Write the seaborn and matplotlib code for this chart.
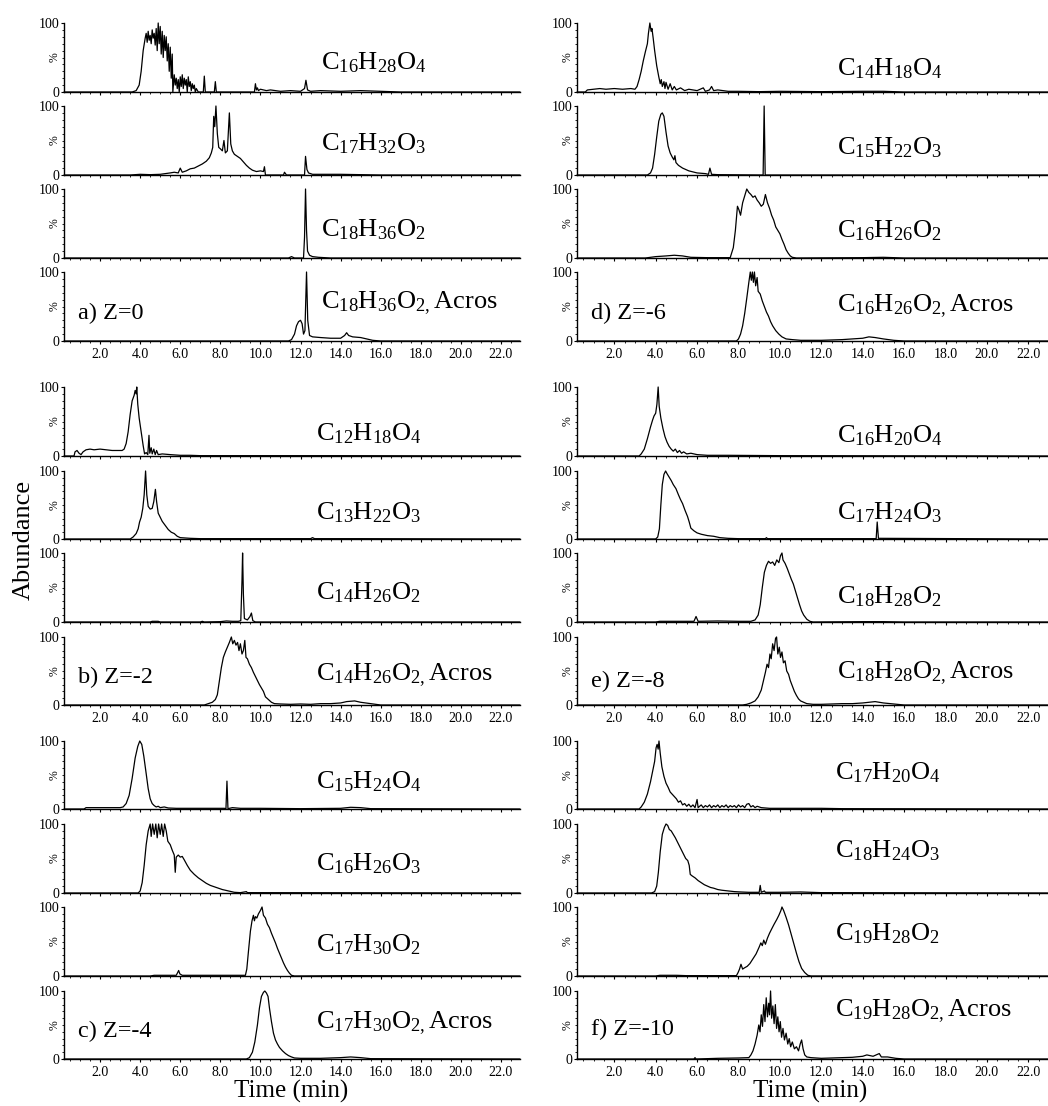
import matplotlib
matplotlib.use('Agg')
import pandas as pd
import matplotlib.pyplot as plt
import seaborn as sns
from matplotlib.ticker import MultipleLocator, FixedLocator, FormatStrFormatter

# ---------------- data: (time in min, abundance in %) ----------------
# panel a) Z=0
a1 = [(0.2, 0), (3.6, 0), (3.8, 2), (3.95, 10), (4.05, 30), (4.15, 60), (4.25, 78), (4.3, 85), (4.35, 72),
      (4.4, 88), (4.45, 75), (4.5, 82), (4.55, 70), (4.6, 90), (4.65, 78), (4.7, 85), (4.75, 68), (4.8, 92),
      (4.85, 60), (4.9, 100), (4.95, 70), (5.0, 95), (5.05, 55), (5.1, 88), (5.15, 50), (5.2, 82), (5.25, 60),
      (5.3, 80), (5.35, 45), (5.4, 70), (5.45, 30), (5.5, 65), (5.55, 20), (5.6, 55), (5.63, 0), (5.7, 25),
      (5.75, 10), (5.8, 20), (5.85, 5), (5.9, 18), (5.95, 0), (6.0, 22), (6.05, 8), (6.1, 25), (6.15, 5),
      (6.2, 20), (6.25, 10), (6.3, 18), (6.35, 0), (6.4, 22), (6.45, 8), (6.5, 15), (6.55, 2), (6.6, 12),
      (6.65, 5), (6.7, 10), (6.75, 0), (6.8, 5), (6.9, 0), (7.15, 0), (7.2, 23), (7.25, 0), (7.7, 0),
      (7.75, 15), (7.8, 0), (9.7, 0), (9.75, 12), (9.8, 3), (9.85, 6), (9.9, 2), (10.0, 4), (10.3, 2),
      (10.5, 3), (11.0, 1), (11.5, 2), (12.0, 1), (12.2, 5), (12.27, 17), (12.35, 3), (12.5, 1), (13.0, 2),
      (14.0, 1), (15.0, 2), (16.0, 1), (17.0, 0), (22.95, 0)]
a2 = [(0.2, 0), (3.5, 0), (4.0, 1), (4.5, 0.5), (5.0, 1), (5.5, 3), (5.7, 4), (5.9, 3), (6.0, 10), (6.1, 4),
      (6.3, 6), (6.5, 9), (6.7, 10), (6.9, 13), (7.1, 16), (7.3, 20), (7.45, 25), (7.55, 32), (7.62, 40),
      (7.67, 85), (7.72, 70), (7.78, 100), (7.85, 60), (7.92, 40), (8.0, 38), (8.1, 35), (8.18, 50),
      (8.25, 32), (8.35, 35), (8.45, 90), (8.52, 45), (8.6, 35), (8.7, 30), (8.85, 27), (9.0, 24),
      (9.15, 19), (9.3, 14), (9.45, 10), (9.6, 7), (9.8, 5), (10.0, 6), (10.15, 5), (10.2, 12), (10.25, 0),
      (11.15, 0), (11.2, 4), (11.3, 0), (12.2, 0), (12.25, 27), (12.32, 8), (12.4, 3), (12.6, 1), (14.0, 1),
      (15.0, 0.5), (16.0, 0), (22.95, 0)]
a3 = [(0.2, 0), (11.4, 0), (11.55, 2), (11.7, 0), (12.15, 0), (12.2, 30), (12.25, 100), (12.3, 40),
      (12.35, 10), (12.45, 4), (12.6, 2), (12.9, 1), (13.5, 0), (22.95, 0)]
a4 = [(0.2, 0), (11.4, 0), (11.55, 2), (11.7, 10), (11.8, 22), (11.9, 28), (12.0, 30), (12.08, 25),
      (12.15, 10), (12.22, 15), (12.3, 100), (12.36, 30), (12.45, 8), (12.6, 6), (13.0, 5), (13.5, 4),
      (14.0, 4), (14.2, 8), (14.3, 12), (14.4, 8), (14.6, 6), (15.0, 5), (15.3, 3), (15.6, 1), (16.0, 0),
      (22.95, 0)]

# panel b) Z=-2
b1 = [(0.2, 0), (0.7, 0), (0.75, 6), (0.85, 8), (0.95, 4), (1.05, 2), (1.15, 6), (1.3, 9), (1.5, 10),
      (1.7, 9), (2.0, 10), (2.3, 9), (2.6, 8), (2.9, 8), (3.1, 8), (3.2, 10), (3.3, 18), (3.4, 35), (3.5, 60),
      (3.6, 80), (3.7, 88), (3.75, 95), (3.8, 90), (3.83, 100), (3.88, 75), (3.95, 55), (4.05, 35),
      (4.15, 15), (4.22, 3), (4.3, 5), (4.38, 2), (4.44, 30), (4.48, 4), (4.55, 12), (4.6, 3), (4.68, 10),
      (4.75, 2), (4.82, 8), (4.9, 2), (5.1, 3), (5.5, 2), (6.0, 1), (6.5, 1), (7.0, 0.5), (10.0, 0.5),
      (14.0, 0.5), (22.95, 0)]
b2 = [(0.2, 0), (3.5, 0), (3.65, 3), (3.8, 8), (3.9, 15), (3.97, 25), (4.05, 32), (4.13, 45), (4.2, 65),
      (4.27, 100), (4.33, 65), (4.4, 48), (4.5, 44), (4.6, 45), (4.68, 55), (4.76, 73), (4.82, 55),
      (4.9, 38), (5.0, 32), (5.1, 26), (5.25, 20), (5.4, 14), (5.55, 10), (5.7, 8), (5.85, 4), (6.0, 2),
      (6.5, 1), (7.0, 0.5), (12.5, 0.5), (12.6, 2), (12.7, 0.5), (15.0, 0.5), (22.95, 0)]
b3 = [(0.2, 0), (4.5, 0), (4.6, 1), (4.9, 1), (5.0, 0), (7.0, 0), (7.1, 1), (7.2, 0), (8.0, 0.5),
      (8.3, 1.5), (8.6, 1), (8.9, 1), (9.02, 2), (9.08, 60), (9.11, 100), (9.15, 40), (9.2, 5), (9.35, 3),
      (9.48, 8), (9.55, 13), (9.62, 2), (9.75, 0), (22.95, 0)]
b4 = [(0.2, 0), (7.2, 0), (7.4, 2), (7.6, 4), (7.75, 8), (7.85, 15), (7.95, 35), (8.05, 55), (8.15, 70),
      (8.25, 78), (8.35, 85), (8.45, 92), (8.55, 100), (8.62, 90), (8.7, 95), (8.78, 88), (8.86, 92),
      (8.93, 80), (9.0, 90), (9.08, 75), (9.15, 80), (9.22, 95), (9.28, 70), (9.35, 68), (9.45, 60),
      (9.55, 55), (9.65, 48), (9.75, 42), (9.85, 36), (9.95, 30), (10.05, 25), (10.15, 20), (10.25, 12),
      (10.4, 8), (10.55, 4), (10.7, 2), (11.0, 1.5), (11.5, 1), (12.0, 1.5), (12.5, 1), (13.0, 2),
      (13.5, 2), (14.0, 3), (14.3, 5), (14.7, 6), (15.0, 4), (15.5, 2), (16.0, 0), (22.95, 0)]

# panel c) Z=-4
c1 = [(0.2, 0), (1.2, 0), (1.3, 2), (2.0, 2), (2.5, 2), (3.0, 2), (3.15, 3), (3.3, 8), (3.45, 20),
      (3.6, 45), (3.75, 75), (3.88, 92), (3.98, 100), (4.08, 95), (4.18, 78), (4.3, 52), (4.4, 30),
      (4.5, 15), (4.6, 8), (4.7, 5), (4.8, 3), (4.9, 4), (5.0, 2), (5.2, 3), (5.4, 1.5), (5.8, 1), (6.5, 1),
      (7.5, 1), (8.2, 1), (8.28, 0.5), (8.33, 41), (8.38, 0.5), (8.6, 2), (9.0, 1), (10.0, 1), (12.0, 0.5),
      (14.0, 1), (14.5, 2.5), (15.0, 2), (15.5, 0.5), (22.95, 0)]
c2 = [(0.2, 0), (3.9, 0), (4.0, 3), (4.1, 15), (4.2, 40), (4.3, 70), (4.4, 90), (4.5, 100), (4.55, 82),
      (4.62, 100), (4.7, 85), (4.78, 100), (4.85, 80), (4.92, 100), (5.0, 85), (5.07, 100), (5.15, 82),
      (5.22, 100), (5.3, 90), (5.38, 75), (5.5, 70), (5.6, 62), (5.7, 55), (5.75, 30), (5.8, 52),
      (5.9, 55), (6.0, 52), (6.1, 53), (6.2, 48), (6.35, 40), (6.5, 33), (6.7, 27), (6.9, 22), (7.1, 18),
      (7.3, 14), (7.5, 11), (7.8, 8), (8.1, 5), (8.4, 3), (8.7, 1), (9.0, 0.5), (9.3, 2), (9.35, 0.5),
      (22.95, 0)]
c3 = [(0.2, 0), (4.5, 0), (4.7, 1), (5.5, 1), (5.8, 1), (5.87, 5), (5.92, 8), (5.98, 3), (6.1, 1),
      (7.0, 1), (8.0, 1), (9.0, 1), (9.25, 1), (9.32, 10), (9.4, 35), (9.5, 65), (9.58, 80), (9.65, 88),
      (9.7, 80), (9.75, 86), (9.82, 84), (9.9, 90), (10.0, 95), (10.08, 100), (10.15, 88), (10.25, 84),
      (10.35, 75), (10.45, 70), (10.55, 62), (10.65, 55), (10.75, 48), (10.85, 40), (10.95, 33),
      (11.05, 26), (11.15, 19), (11.25, 13), (11.35, 8), (11.45, 4), (11.55, 1), (11.7, 0), (14.5, 0.5),
      (22.95, 0)]
c4 = [(0.2, 0), (9.3, 0), (9.45, 2), (9.6, 10), (9.72, 25), (9.85, 50), (9.95, 75), (10.05, 92),
      (10.15, 98), (10.22, 100), (10.3, 97), (10.38, 92), (10.45, 75), (10.55, 55), (10.65, 38),
      (10.75, 28), (10.85, 22), (10.95, 17), (11.1, 12), (11.25, 8), (11.4, 5), (11.55, 3), (11.7, 1.5),
      (12.0, 1), (13.0, 1), (14.0, 2), (14.5, 3), (15.0, 2), (15.5, 0.5), (22.95, 0)]

# panel d) Z=-6
d1 = [(0.2, 0), (0.6, 0), (0.7, 3), (1.0, 4), (1.3, 5), (1.6, 4), (2.0, 5), (2.4, 4), (2.8, 5), (3.0, 4),
      (3.1, 8), (3.2, 18), (3.3, 30), (3.4, 45), (3.5, 58), (3.6, 70), (3.65, 85), (3.72, 100), (3.78, 88),
      (3.82, 92), (3.88, 78), (3.95, 60), (4.05, 38), (4.15, 22), (4.22, 12), (4.27, 18), (4.32, 8),
      (4.4, 15), (4.45, 5), (4.5, 14), (4.6, 4), (4.7, 12), (4.8, 3), (4.9, 8), (5.0, 3), (5.2, 6), (5.4, 2),
      (5.6, 4), (6.0, 2), (6.3, 6), (6.4, 1), (6.6, 3), (6.7, 8), (6.8, 2), (7.0, 3), (7.5, 1), (8.0, 1),
      (9.0, 0.5), (10.0, 1), (12.0, 0.5), (14.0, 1), (15.0, 1), (16.0, 0), (22.95, 0)]
d2 = [(0.2, 0), (3.6, 0), (3.75, 3), (3.85, 10), (3.95, 30), (4.05, 55), (4.15, 78), (4.25, 88),
      (4.32, 90), (4.4, 85), (4.5, 62), (4.6, 42), (4.7, 32), (4.8, 26), (4.88, 22), (4.93, 28), (4.98, 18),
      (5.1, 14), (5.3, 10), (5.6, 6), (6.0, 3), (6.4, 2), (6.55, 1), (6.62, 10), (6.7, 1), (7.0, 0.5),
      (9.19, 0), (9.24, 100), (9.29, 0), (22.95, 0)]
d3 = [(0.2, 0), (3.5, 0), (4.0, 2), (4.5, 3), (4.9, 4), (5.3, 3), (5.7, 1), (6.5, 0.5), (7.6, 0.5),
      (7.75, 15), (7.85, 40), (7.95, 75), (8.02, 70), (8.1, 62), (8.2, 80), (8.3, 90), (8.4, 100),
      (8.5, 95), (8.6, 92), (8.7, 88), (8.8, 90), (8.9, 84), (9.0, 80), (9.1, 75), (9.2, 78), (9.3, 92),
      (9.4, 80), (9.5, 72), (9.6, 62), (9.7, 55), (9.8, 45), (9.9, 40), (10.0, 35), (10.1, 27), (10.2, 20),
      (10.3, 12), (10.4, 7), (10.5, 3), (10.6, 1), (10.8, 0), (14.0, 0.5), (15.0, 1), (16.0, 0), (22.95, 0)]
d4 = [(0.2, 0), (7.9, 0), (8.0, 3), (8.1, 10), (8.2, 22), (8.3, 40), (8.4, 62), (8.5, 85), (8.57, 100),
      (8.62, 88), (8.67, 100), (8.72, 85), (8.77, 100), (8.83, 80), (8.9, 92), (8.95, 72), (9.05, 68),
      (9.15, 58), (9.25, 50), (9.35, 42), (9.45, 36), (9.55, 28), (9.65, 22), (9.8, 15), (9.95, 10),
      (10.1, 6), (10.3, 3), (10.6, 2), (11.0, 1), (12.0, 1), (13.0, 2), (13.5, 3), (14.0, 4), (14.3, 6),
      (14.6, 5), (15.0, 3), (15.5, 1), (16.0, 0), (22.95, 0)]

# panel e) Z=-8
e1 = [(0.2, 0), (3.2, 0), (3.3, 3), (3.45, 10), (3.6, 25), (3.75, 42), (3.85, 52), (3.92, 58), (4.0, 62),
      (4.06, 75), (4.12, 100), (4.17, 72), (4.25, 55), (4.35, 40), (4.45, 28), (4.55, 20), (4.65, 14),
      (4.75, 10), (4.85, 7), (4.95, 10), (5.05, 5), (5.15, 8), (5.25, 4), (5.35, 6), (5.5, 3), (5.7, 4),
      (6.0, 2), (6.5, 1), (7.5, 1), (10.0, 0.5), (22.95, 0)]
e2 = [(0.2, 0), (4.0, 0), (4.1, 3), (4.18, 15), (4.25, 50), (4.32, 80), (4.4, 95), (4.48, 100), (4.55, 96),
      (4.65, 91), (4.75, 86), (4.85, 80), (4.98, 74), (5.1, 65), (5.2, 58), (5.3, 52), (5.42, 42),
      (5.54, 33), (5.62, 25), (5.7, 16), (5.85, 12), (6.0, 9), (6.2, 7), (6.5, 5), (6.8, 4), (7.1, 2),
      (7.5, 1), (8.0, 0.5), (9.3, 0.5), (9.35, 2), (9.4, 0.5), (14.65, 0.5), (14.7, 25), (14.76, 1),
      (22.95, 0)]
e3 = [(0.2, 0), (4.0, 0), (4.2, 1), (5.5, 1), (5.85, 1), (5.95, 8), (6.05, 1), (7.0, 1.5), (8.0, 1),
      (8.6, 1), (8.8, 3), (8.95, 10), (9.05, 25), (9.15, 50), (9.25, 72), (9.35, 82), (9.45, 88),
      (9.55, 85), (9.65, 87), (9.75, 82), (9.85, 90), (9.95, 86), (10.03, 96), (10.1, 100), (10.15, 90),
      (10.25, 85), (10.35, 78), (10.45, 70), (10.55, 62), (10.65, 55), (10.75, 45), (10.85, 35),
      (10.95, 25), (11.05, 16), (11.15, 10), (11.3, 4), (11.45, 1), (11.6, 0), (14.0, 0.5), (15.0, 0.5),
      (16.0, 0), (22.95, 0)]
e4 = [(0.2, 0), (8.2, 0), (8.4, 1), (8.6, 3), (8.8, 6), (8.95, 12), (9.1, 22), (9.2, 35), (9.3, 48),
      (9.38, 60), (9.45, 55), (9.52, 75), (9.58, 68), (9.65, 90), (9.72, 80), (9.79, 98), (9.84, 100),
      (9.9, 75), (9.97, 85), (10.03, 70), (10.1, 78), (10.17, 62), (10.25, 65), (10.33, 50), (10.42, 45),
      (10.5, 36), (10.6, 28), (10.7, 20), (10.8, 14), (10.9, 9), (11.0, 6), (11.15, 4), (11.3, 2),
      (11.6, 1), (12.0, 1), (12.5, 1.5), (13.0, 2), (13.5, 2), (14.0, 3), (14.3, 4), (14.6, 5), (15.0, 3),
      (15.5, 1.5), (16.0, 0), (22.95, 0)]

# panel f) Z=-10
f1 = [(0.2, 0), (3.2, 0), (3.3, 3), (3.45, 10), (3.6, 22), (3.75, 40), (3.85, 55), (3.95, 70), (4.02, 90),
      (4.07, 95), (4.12, 88), (4.16, 100), (4.22, 82), (4.3, 62), (4.4, 48), (4.5, 38), (4.6, 32),
      (4.7, 25), (4.85, 20), (5.0, 15), (5.1, 10), (5.2, 12), (5.3, 6), (5.4, 8), (5.5, 4), (5.6, 7),
      (5.7, 3), (5.8, 6), (5.9, 2), (6.0, 14), (6.05, 2), (6.2, 6), (6.3, 2), (6.4, 5), (6.5, 3), (6.6, 6),
      (6.7, 2), (6.8, 5), (6.9, 3), (7.0, 6), (7.1, 2), (7.2, 5), (7.3, 3), (7.4, 6), (7.5, 2), (7.6, 5),
      (7.7, 3), (7.8, 5), (7.9, 2), (8.0, 6), (8.1, 3), (8.2, 5), (8.3, 2), (8.4, 7), (8.5, 8), (8.6, 3),
      (8.7, 5), (8.8, 2), (8.9, 4), (9.1, 2), (9.5, 1), (10.0, 1), (12.0, 1), (13.0, 0.5), (22.95, 0)]
f2 = [(0.2, 0), (3.8, 0), (3.95, 2), (4.05, 10), (4.13, 30), (4.22, 60), (4.32, 85), (4.42, 95),
      (4.5, 100), (4.58, 98), (4.66, 92), (4.75, 90), (4.85, 85), (4.95, 80), (5.05, 74), (5.15, 68),
      (5.25, 62), (5.35, 56), (5.45, 50), (5.55, 47), (5.62, 40), (5.67, 27), (5.75, 25), (5.9, 22),
      (6.05, 18), (6.2, 15), (6.35, 12), (6.5, 10), (6.65, 8), (6.8, 7), (7.0, 5), (7.2, 4), (7.5, 3),
      (7.8, 2), (8.1, 1.5), (8.5, 1), (9.0, 1), (9.05, 11), (9.1, 1), (9.25, 3), (9.3, 1), (10.0, 1),
      (11.0, 1.5), (11.5, 1), (12.0, 0.5), (22.95, 0)]
f3 = [(0.2, 0), (4.0, 0), (4.2, 1), (5.0, 1), (5.5, 0.5), (7.9, 0.5), (7.98, 5), (8.05, 10), (8.12, 17),
      (8.2, 10), (8.3, 12), (8.42, 14), (8.55, 18), (8.7, 25), (8.85, 32), (9.0, 42), (9.08, 48),
      (9.15, 44), (9.22, 52), (9.3, 46), (9.4, 55), (9.5, 62), (9.6, 68), (9.72, 75), (9.85, 82),
      (9.95, 88), (10.05, 95), (10.1, 100), (10.18, 95), (10.3, 85), (10.42, 74), (10.55, 60), (10.68, 46),
      (10.8, 33), (10.92, 21), (11.05, 11), (11.2, 5), (11.35, 1), (11.5, 0), (22.95, 0)]
f4 = [(0.2, 0), (5.85, 0), (5.9, 2), (5.95, 0), (7.0, 1), (8.0, 1.5), (8.5, 2), (8.6, 6), (8.7, 12),
      (8.8, 22), (8.9, 35), (8.98, 50), (9.04, 40), (9.1, 65), (9.16, 48), (9.22, 80), (9.28, 55),
      (9.34, 90), (9.4, 62), (9.46, 82), (9.5, 65), (9.55, 100), (9.6, 60), (9.66, 78), (9.72, 52),
      (9.78, 80), (9.84, 45), (9.9, 62), (9.96, 40), (10.02, 55), (10.08, 32), (10.15, 45), (10.22, 28),
      (10.3, 38), (10.38, 22), (10.45, 30), (10.52, 18), (10.6, 25), (10.7, 15), (10.8, 18), (10.9, 12),
      (10.98, 22), (11.05, 28), (11.12, 15), (11.2, 6), (11.3, 3), (11.5, 2), (12.0, 1), (12.5, 1.5),
      (13.0, 2), (13.5, 2.5), (14.0, 4), (14.2, 6), (14.5, 4), (14.8, 8), (14.9, 3), (15.2, 3), (15.6, 1),
      (16.0, 0), (22.95, 0)]

formulas_a = [r'C$_{16}$H$_{28}$O$_{4}$', r'C$_{17}$H$_{32}$O$_{3}$', r'C$_{18}$H$_{36}$O$_{2}$', r'C$_{18}$H$_{36}$O$_{2,}$Acros']
formulas_b = [r'C$_{12}$H$_{18}$O$_{4}$', r'C$_{13}$H$_{22}$O$_{3}$', r'C$_{14}$H$_{26}$O$_{2}$', r'C$_{14}$H$_{26}$O$_{2,}$Acros']
formulas_c = [r'C$_{15}$H$_{24}$O$_{4}$', r'C$_{16}$H$_{26}$O$_{3}$', r'C$_{17}$H$_{30}$O$_{2}$', r'C$_{17}$H$_{30}$O$_{2,}$Acros']
formulas_d = [r'C$_{14}$H$_{18}$O$_{4}$', r'C$_{15}$H$_{22}$O$_{3}$', r'C$_{16}$H$_{26}$O$_{2}$', r'C$_{16}$H$_{26}$O$_{2,}$Acros']
formulas_e = [r'C$_{16}$H$_{20}$O$_{4}$', r'C$_{17}$H$_{24}$O$_{3}$', r'C$_{18}$H$_{28}$O$_{2}$', r'C$_{18}$H$_{28}$O$_{2,}$Acros']
formulas_f = [r'C$_{17}$H$_{20}$O$_{4}$', r'C$_{18}$H$_{24}$O$_{3}$', r'C$_{19}$H$_{28}$O$_{2}$', r'C$_{19}$H$_{28}$O$_{2,}$Acros']
panel_names = ['a) Z=0', 'b) Z=-2', 'c) Z=-4', 'd) Z=-6', 'e) Z=-8', 'f) Z=-10']
xticks = [2.0, 4.0, 6.0, 8.0, 10.0, 12.0, 14.0, 16.0, 18.0, 20.0, 22.0]

# ---------------- layout (pixels) ----------------
W, H = 1048, 1106
col_px = [(64, 520), (577, 1048)]
row_px = [[(23, 92), (106, 175), (189, 258), (272, 341)],
          [(387, 456), (471, 539), (553, 622), (637, 705)],
          [(741, 809), (824, 893), (907, 976), (991, 1059)]]

panels = [
    (0, 0, [a1, a2, a3, a4], formulas_a, [42, 46, 41, 55], 13.0, 40),
    (0, 1, [b1, b2, b3, b4], formulas_b, [33, 38, 42, 44], 12.75, 40),
    (0, 2, [c1, c2, c3, c4], formulas_c, [40, 43, 45, 53], 12.75, 40),
    (1, 0, [d1, d2, d3, d4], formulas_d, [34, 39, 40, 51], 12.75, 40),
    (1, 1, [e1, e2, e3, e4], formulas_e, [30, 38, 36, 47], 12.75, 34),
    (1, 2, [f1, f2, f3, f4], formulas_f, [54, 62, 61, 71], 12.65, 43),
]

sns.set_theme(style="ticks")
plt.rcParams['font.family'] = ['Liberation Serif', 'DejaVu Serif']
plt.rcParams['mathtext.default'] = 'regular'
plt.rcParams['text.color'] = 'black'
plt.rcParams['axes.labelcolor'] = 'black'
plt.rcParams['xtick.color'] = 'black'
plt.rcParams['ytick.color'] = 'black'

fig = plt.figure(figsize=(W / 100, H / 100), dpi=100)
fig.patch.set_facecolor('white')

for k, (col, row, traces, formulas, label_y, label_x, letter_y) in enumerate(panels):
    x0, x1 = col_px[col]
    for i, trace in enumerate(traces):
        yt, yb = row_px[row][i]
        ax = fig.add_axes([x0 / W, 1 - yb / H, (x1 - x0) / W, (yb - yt) / H])
        df = pd.DataFrame(trace, columns=['t', 'y'])
        sns.lineplot(data=df, x='t', y='y', ax=ax, color='black', linewidth=0.9,
                     estimator=None, sort=False)
        for ln in ax.lines:
            ln.set_clip_on(False)
        ax.set_xlim(0.2, 22.95)
        ax.set_ylim(0, 100)
        ax.set_xlabel('')
        ax.set_ylabel('')
        ax.patch.set_alpha(0)
        for s in ['top', 'right']:
            ax.spines[s].set_visible(False)
        for s in ['left', 'bottom']:
            ax.spines[s].set_linewidth(1.0)
            ax.spines[s].set_color('black')

        ax.yaxis.set_major_locator(FixedLocator([0, 100]))
        ax.yaxis.set_minor_locator(MultipleLocator(10))
        ax.xaxis.set_major_locator(FixedLocator(xticks))
        ax.xaxis.set_major_formatter(FormatStrFormatter('%.1f'))
        ax.xaxis.set_minor_locator(MultipleLocator(0.5))
        ax.tick_params(axis='both', which='major', direction='out', length=2.5, width=0.8,
                       color='black', labelsize=10, labelcolor='black')
        ax.tick_params(axis='both', which='minor', direction='out', length=1.5, width=0.6, color='black')
        ax.tick_params(axis='y', which='major', pad=0.5)
        ax.tick_params(axis='x', which='major', pad=2.5, labelbottom=(i == 3))

        ax.annotate('%', xy=(0, 0.5), xycoords='axes fraction', xytext=(-7, 0),
                    textcoords='offset points', rotation=90, ha='center', va='center', fontsize=8.5)

        ax.text(label_x, label_y[i], formulas[i], fontsize=19, ha='left', va='center')
        if i == 3:
            ax.text(0.9, letter_y, panel_names[k], fontsize=17.5, ha='left', va='center')

fig.text(24 / W, 1 - 540 / H, 'Abundance', rotation=90, ha='center', va='center', fontsize=19)
fig.text(291 / W, 1 - 1091 / H, 'Time (min)', ha='center', va='center', fontsize=18)
fig.text(810 / W, 1 - 1091 / H, 'Time (min)', ha='center', va='center', fontsize=18)

fig.savefig('out.png', dpi=100, facecolor='white')
plt.close(fig)
